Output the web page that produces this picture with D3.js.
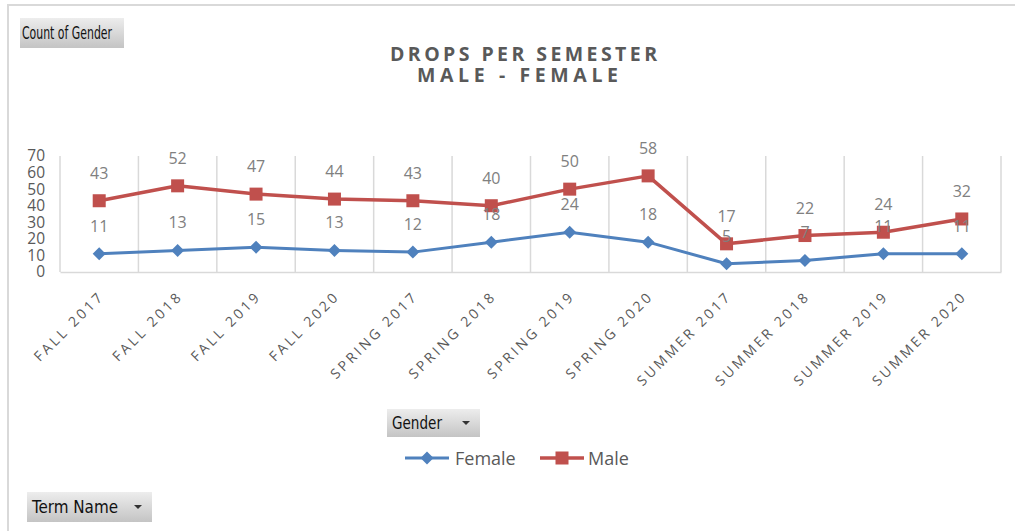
<!DOCTYPE html>
<html>
<head>
<meta charset="utf-8">
<script src="https://cdn.jsdelivr.net/npm/d3@7"></script>
<style>
  html, body { margin: 0; padding: 0; background: #fff; }
  svg { display: block; }
  .tick text { font-family: "Open Sans", sans-serif; }
</style>
</head>
<body>
<div id="chart"></div>
<script>
/* ----------------------- Data ----------------------- */
const terms = ["FALL 2017", "FALL 2018", "FALL 2019", "FALL 2020",
    "SPRING 2017", "SPRING 2018", "SPRING 2019", "SPRING 2020",
    "SUMMER 2017", "SUMMER 2018", "SUMMER 2019", "SUMMER 2020"];
const femaleCounts = [11, 13, 15, 13, 12, 18, 24, 18, 5, 7, 11, 11];
const maleCounts = [43, 52, 47, 44, 43, 40, 50, 58, 17, 22, 24, 32];
const yTicks = [0, 10, 20, 30, 40, 50, 60, 70];
const titleLines = ["DROPS PER SEMESTER", "MALE - FEMALE"];

(function () {
    /* ----------------------- Dimensions ----------------------- */
    const W = 1015, H = 531;
    const plot = { left: 60, right: 1001, top: 156, bottom: 272 };
    const grid = "#d9d9d9";
    const textGray = "#595959";
    const labelGray = "#808080";
    const colors = { Female: "#4f81bd", Male: "#c0504d" };

    const svg = d3.select("#chart").append("svg")
        .attr("width", W)
        .attr("height", H);

    const defs = svg.append("defs");
    const grad = defs.append("linearGradient")
        .attr("id", "btn").attr("x1", 0).attr("y1", 0).attr("x2", 0).attr("y2", 1);
    grad.append("stop").attr("offset", "0%").attr("stop-color", "#ededed");
    grad.append("stop").attr("offset", "100%").attr("stop-color", "#c4c4c4");

    /* ----------------------- Outer frame ----------------------- */
    svg.append("path")
        .attr("d", `M8,${H} L8,5 L${W},5`)
        .attr("fill", "none")
        .attr("stroke", grid)
        .attr("stroke-width", 2);

    /* ----------------------- Scales ----------------------- */
    const x = d3.scaleBand().domain(terms).range([plot.left, plot.right]);
    const y = d3.scaleLinear().domain([0, 70]).range([plot.bottom, plot.top]);

    /* ----------------------- Grid ----------------------- */
    const bounds = terms.map(t => x(t)).concat([plot.right]);
    svg.append("g").selectAll("line")
        .data(bounds)
        .enter().append("line")
        .attr("x1", d => d).attr("x2", d => d)
        .attr("y1", plot.top).attr("y2", plot.bottom)
        .attr("stroke", grid)
        .attr("stroke-width", 1.5);

    /* ----------------------- Axes ----------------------- */
    const yAxis = svg.append("g")
        .attr("transform", `translate(${plot.left},0)`)
        .call(d3.axisLeft(y).tickValues(yTicks).tickSize(0).tickPadding(15));
    yAxis.select(".domain").remove();
    yAxis.selectAll("text")
        .attr("fill", textGray)
        .style("font-size", "15.5px");

    const xAxis = svg.append("g")
        .attr("transform", `translate(0,${plot.bottom})`)
        .call(d3.axisBottom(x).tickSize(0));
    xAxis.select(".domain")
        .attr("stroke", grid)
        .attr("stroke-width", 1.5);
    xAxis.selectAll("text")
        .attr("fill", textGray)
        .style("font-size", "14px")
        .style("letter-spacing", "2.9px")
        .attr("text-anchor", "end")
        .attr("dy", 0)
        .attr("y", 0)
        .attr("transform", "translate(6,25) rotate(-45)");

    /* ----------------------- Series ----------------------- */
    const series = [
        { name: "Female", values: femaleCounts },
        { name: "Male", values: maleCounts }
    ];
    const cx = i => x(terms[i]) + x.bandwidth() / 2;
    const line = d3.line().x((d, i) => cx(i)).y(d => y(d));
    const diamond = r => `M0,${-r} L${r},0 L0,${r} L${-r},0 Z`;

    series.forEach(s => {
        svg.append("path")
            .datum(s.values)
            .attr("fill", "none")
            .attr("stroke", colors[s.name])
            .attr("stroke-width", s.name === "Male" ? 3.5 : 3)
            .attr("stroke-linejoin", "round")
            .attr("d", line);

        const marks = svg.append("g").selectAll("path.mark")
            .data(s.values)
            .enter();
        if (s.name === "Male") {
            marks.append("rect")
                .attr("x", (d, i) => cx(i) - 6.5)
                .attr("y", d => y(d) - 6.5)
                .attr("width", 13).attr("height", 13)
                .attr("fill", colors.Male);
        } else {
            marks.append("path")
                .attr("transform", (d, i) => `translate(${cx(i)},${y(d)})`)
                .attr("d", diamond(6.5))
                .attr("fill", colors.Female);
        }
    });

    series.forEach(s => {
        svg.append("g").selectAll("text")
            .data(s.values)
            .enter().append("text")
            .attr("x", (d, i) => cx(i))
            .attr("y", d => y(d) - 22)
            .attr("text-anchor", "middle")
            .attr("fill", labelGray)
            .style("font-family", "Open Sans, sans-serif")
            .style("font-size", "16px")
            .text(d => d);
    });

    /* ----------------------- Title ----------------------- */
    svg.append("g").selectAll("text")
        .data(titleLines)
        .enter().append("text")
        .attr("x", (d, i) => i === 0 ? 390 : 417)
        .attr("y", (d, i) => i === 0 ? 61 : 82)
        .attr("textLength", (d, i) => i === 0 ? 267 : 201)
        .attr("lengthAdjust", "spacing")
        .attr("fill", textGray)
        .style("font-family", "Open Sans, sans-serif")
        .style("font-weight", "bold")
        .style("font-size", "19.5px")
        .text(d => d);

    /* ----------------------- Field buttons ----------------------- */
    const buttons = [
        { label: "Count of Gender", x: 20, y: 18, w: 104, h: 30, tw: 90, arrow: false },
        { label: "Gender", x: 387, y: 409, w: 93, h: 28, tw: 50, arrow: true },
        { label: "Term Name", x: 27, y: 492, w: 125, h: 30, tw: 86, arrow: true }
    ];
    const btn = svg.append("g").selectAll("g")
        .data(buttons)
        .enter().append("g")
        .attr("transform", d => `translate(${d.x},${d.y})`);
    btn.append("rect")
        .attr("width", d => d.w).attr("height", d => d.h)
        .attr("fill", "url(#btn)");
    btn.append("text")
        .attr("x", d => d.label === "Count of Gender" ? 2 : 5)
        .attr("y", d => d.h / 2 + 6)
        .attr("textLength", d => d.tw)
        .attr("lengthAdjust", "spacingAndGlyphs")
        .attr("fill", "#111")
        .style("font-family", "Liberation Sans Narrow, DejaVu Sans Condensed, sans-serif")
        .style("font-size", "17px")
        .text(d => d.label);
    btn.filter(d => d.arrow).append("path")
        .attr("d", d => `M${d.w - 18},${d.h / 2 - 2} l8,0 l-4,4 Z`)
        .attr("fill", "#333");

    /* ----------------------- Legend ----------------------- */
    const legend = [
        { name: "Female", x: 405 },
        { name: "Male", x: 540 }
    ];
    const lg = svg.append("g").selectAll("g")
        .data(legend)
        .enter().append("g")
        .attr("transform", d => `translate(${d.x},458)`);
    lg.append("line")
        .attr("x1", 0).attr("x2", 44)
        .attr("stroke", d => colors[d.name])
        .attr("stroke-width", d => d.name === "Male" ? 3.5 : 3);
    lg.filter(d => d.name === "Male").append("rect")
        .attr("x", 15.5).attr("y", -6.5).attr("width", 13).attr("height", 13)
        .attr("fill", colors.Male);
    lg.filter(d => d.name === "Female").append("path")
        .attr("transform", "translate(22,0)")
        .attr("d", diamond(6.5))
        .attr("fill", colors.Female);
    lg.append("text")
        .attr("x", d => d.name === "Male" ? 48 : 50)
        .attr("y", 7)
        .attr("fill", textGray)
        .style("font-family", "Open Sans, sans-serif")
        .style("font-size", "18px")
        .text(d => d.name);
})();
</script>
</body>
</html>
